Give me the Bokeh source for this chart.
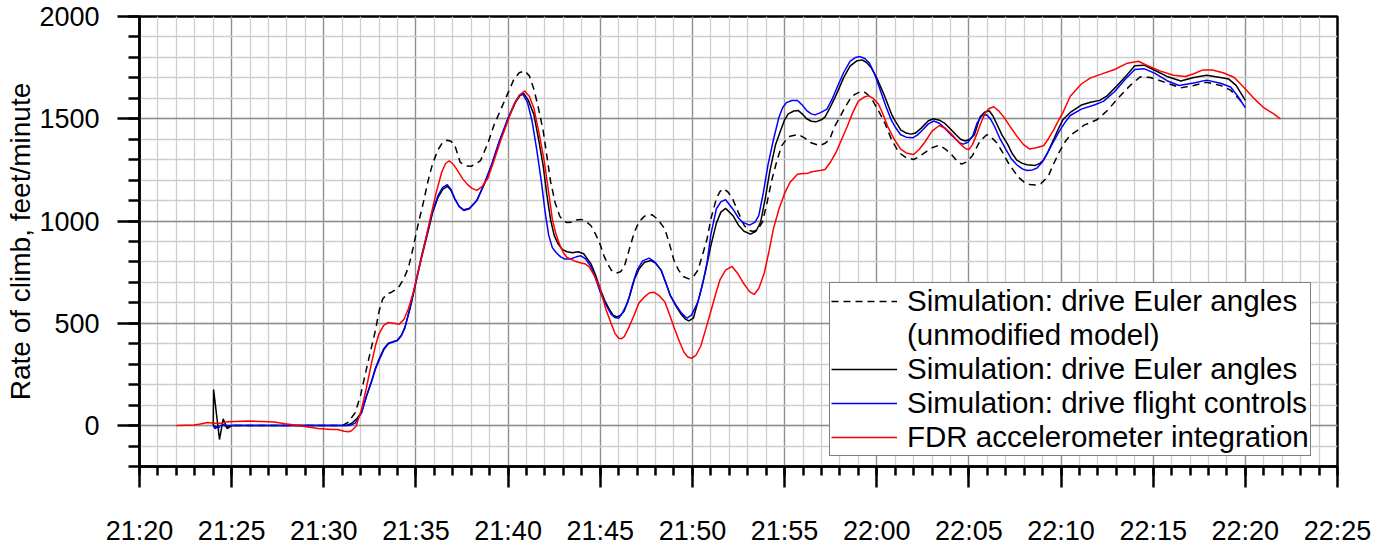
from bokeh.plotting import figure
from bokeh.models import Range1d, FixedTicker, Legend, LegendItem
from bokeh.embed import file_html
from bokeh.resources import INLINE

# Axis tick labels (clock time) and rate-of-climb ticks
TICK_LABELS = ["21:20", "21:25", "21:30", "21:35", "21:40", "21:45", "21:50",
               "21:55", "22:00", "22:05", "22:10", "22:15", "22:20", "22:25"]
Y_TICKS = [0, 500, 1000, 1500, 2000]
Y_MIN, Y_MAX = -200, 2000

# Times are minutes after 21:00; rates in feet/minute.
euler_old_t = [24.0, 24.3, 24.5, 24.7, 24.9, 31.0, 31.3, 31.7, 32.0, 32.2, 32.5, 32.8, 33.0, 33.2,
               33.45, 33.65, 33.9, 34.1, 34.35, 34.6, 34.85, 35.1, 35.4, 35.65, 35.9, 36.2, 36.45,
               36.7, 36.9, 37.1, 37.25, 37.4, 37.7, 38.0, 38.25, 38.5, 38.9, 39.25, 39.6, 40.0,
               40.3, 40.6, 40.9, 41.15, 41.4, 41.65, 41.9, 42.1, 42.3, 42.55, 42.8, 43.0, 43.2,
               43.5, 43.7, 43.95, 44.2, 44.5, 44.75, 45.0, 45.2, 45.4, 45.6, 45.85, 46.1, 46.3,
               46.6, 46.85, 47.1, 47.4, 47.8, 48.1, 48.5, 48.75, 49.0, 49.25, 49.5, 49.8, 50.05,
               50.3, 50.55, 50.8, 51.0, 51.3, 51.5, 51.7, 51.95, 52.2, 52.5, 52.8, 53.05, 53.3,
               53.55, 53.8, 54.05, 54.3, 54.6, 54.85, 55.1, 55.3, 55.75, 56.1, 56.4, 56.9, 57.2,
               57.45, 57.7, 58.0, 58.3, 58.65, 59.0, 59.3, 59.55, 59.8, 60.15, 60.45, 60.8, 61.1,
               61.3, 61.6, 62.0, 62.3, 62.65, 63.0, 63.4, 63.75, 64.1, 64.35, 64.6, 64.9, 65.2,
               65.6, 65.97, 66.2, 66.5, 66.8, 67.1, 67.4, 67.7, 68.0, 68.3, 68.6, 68.9, 69.1,
               69.35, 69.6, 69.9, 70.2, 70.5, 71.0, 71.25, 71.95, 72.5, 73.1, 73.75, 74.3, 74.85,
               75.6, 76.5, 77.2, 77.9, 78.65, 79.2, 79.7, 79.9]
euler_old_roc = [0, -10, 8, -5, 0, 0, 15, 62, 150, 232, 350, 465, 560, 620,
                 645, 651, 665, 682, 720, 775, 870, 977, 1090, 1194, 1280, 1349, 1385,
                 1395, 1390, 1372, 1330, 1287, 1270, 1268, 1280, 1295, 1380, 1473, 1545, 1628,
                 1690, 1725, 1734, 1710, 1644, 1550, 1443, 1320, 1195, 1090, 1024, 1000, 993,
                 995, 1005, 1008, 1000, 977, 935, 884, 830, 791, 760, 745, 752, 776,
                 870, 946, 995, 1024, 1031, 1010, 962, 890, 807, 760, 729, 717, 728,
                 760, 835, 915, 1010, 1110, 1145, 1159, 1140, 1104, 1040, 980, 955, 949,
                 960, 995, 1090, 1198, 1300, 1369, 1400, 1415, 1423, 1405, 1384, 1369, 1380,
                 1400, 1460, 1508, 1560, 1610, 1628, 1633, 1615, 1586, 1530, 1477, 1399, 1350,
                 1329, 1310, 1301, 1315, 1337, 1358, 1371, 1350, 1321, 1295, 1278, 1290, 1321,
                 1391, 1422, 1410, 1384, 1340, 1290, 1250, 1213, 1190, 1179, 1176, 1182, 1200,
                 1228, 1280, 1337, 1385, 1420, 1450, 1469, 1495, 1539, 1601, 1663, 1705, 1702,
                 1679, 1651, 1663, 1679, 1663, 1640, 1593, 1565]

euler_t = [24.0, 24.02, 24.34, 24.54, 24.76, 25.0, 31.2, 31.5, 31.8, 32.05, 32.3, 32.6, 32.8,
           33.0, 33.25, 33.5, 33.75, 34.0, 34.2, 34.4, 34.7, 35.0, 35.3, 35.65, 35.9, 36.2,
           36.45, 36.7, 36.9, 37.1, 37.35, 37.6, 37.9, 38.3, 38.7, 39.1, 39.5, 40.0, 40.4,
           40.65, 40.85, 41.1, 41.4, 41.65, 41.9, 42.1, 42.3, 42.5, 42.7, 42.95, 43.2, 43.5,
           43.8, 44.1, 44.5, 44.75, 45.0, 45.25, 45.5, 45.7, 45.9, 46.1, 46.3, 46.6, 46.85,
           47.1, 47.4, 47.75, 48.0, 48.3, 48.55, 48.8, 49.1, 49.4, 49.6, 49.8, 50.05, 50.4,
           50.7, 51.0, 51.3, 51.55, 51.8, 52.2, 52.5, 52.8, 53.15, 53.45, 53.7, 53.95, 54.2,
           54.5, 54.8, 55.0, 55.2, 55.5, 55.75, 56.0, 56.2, 56.45, 56.7, 57.0, 57.2, 57.5,
           57.8, 58.2, 58.55, 58.9, 59.2, 59.45, 59.7, 60.0, 60.4, 60.8, 61.0, 61.3, 61.6,
           61.85, 62.1, 62.4, 62.8, 63.1, 63.4, 63.7, 64.0, 64.3, 64.55, 64.8, 65.05, 65.3,
           65.6, 65.85, 66.1, 66.3, 66.5, 66.8, 67.1, 67.35, 67.6, 67.9, 68.15, 68.6, 68.85,
           69.05, 69.3, 69.6, 69.85, 70.1, 70.5, 71.1, 71.6, 72.1, 72.5, 73.05, 73.6, 74.0,
           74.5, 75.0, 75.75, 76.5, 77.2, 77.9, 78.65, 79.1, 79.5, 80.0]
euler_roc = [0, 176, -68, 33, -15, 0, 0, 10, 35, 65, 140, 220, 280,
             325, 375, 403, 410, 418, 440, 480, 580, 700, 820, 946, 1040, 1116,
             1155, 1170, 1150, 1110, 1070, 1052, 1060, 1100, 1180, 1271, 1380, 1500, 1580,
             1615, 1624, 1590, 1520, 1400, 1272, 1130, 1008, 930, 890, 860, 850, 845,
             850, 840, 790, 735, 667, 610, 567, 540, 531, 540, 560, 635, 714,
             765, 799, 807, 795, 760, 700, 636, 585, 543, 522, 512, 525, 640,
             750, 880, 990, 1045, 1062, 1026, 980, 950, 936, 950, 995, 1110, 1244,
             1370, 1446, 1495, 1524, 1538, 1540, 1520, 1500, 1488, 1485, 1495, 1509, 1560,
             1617, 1700, 1757, 1782, 1788, 1775, 1750, 1700, 1617, 1523, 1490, 1446, 1430,
             1425, 1430, 1453, 1490, 1500, 1493, 1477, 1450, 1422, 1400, 1391, 1400, 1422,
             1508, 1532, 1539, 1515, 1477, 1420, 1376, 1330, 1298, 1282, 1275, 1272, 1282,
             1298, 1340, 1399, 1450, 1495, 1531, 1567, 1581, 1590, 1612, 1663, 1717, 1759,
             1762, 1741, 1707, 1685, 1702, 1713, 1702, 1694, 1663, 1590]

controls_t = [24.0, 24.1, 24.25, 24.4, 31.4, 31.7, 32.05, 32.3, 32.6, 32.8, 33.0, 33.25, 33.5,
              33.75, 34.0, 34.2, 34.4, 34.7, 35.0, 35.3, 35.65, 35.9, 36.2, 36.45, 36.7, 36.9,
              37.1, 37.35, 37.6, 37.9, 38.3, 38.7, 39.1, 39.5, 40.0, 40.4, 40.6, 40.8, 41.05,
              41.3, 41.55, 41.8, 42.0, 42.2, 42.4, 42.6, 42.85, 43.05, 43.4, 43.7, 43.95, 44.2,
              44.5, 44.75, 45.0, 45.3, 45.6, 45.8, 46.0, 46.2, 46.5, 46.75, 47.0, 47.3, 47.65,
              47.95, 48.3, 48.55, 48.8, 49.1, 49.4, 49.7, 49.95, 50.3, 50.55, 50.8, 51.0, 51.3,
              51.55, 51.8, 52.2, 52.5, 52.7, 53.1, 53.4, 53.6, 53.85, 54.1, 54.4, 54.7, 54.9,
              55.1, 55.4, 55.7, 55.95, 56.2, 56.45, 56.65, 56.95, 57.3, 57.6, 57.9, 58.2, 58.55,
              58.85, 59.1, 59.35, 59.6, 59.9, 60.15, 60.5, 60.8, 61.0, 61.3, 61.6, 61.95, 62.2,
              62.5, 62.8, 63.1, 63.4, 63.7, 64.0, 64.3, 64.5, 64.7, 64.95, 65.2, 65.45, 65.7,
              65.97, 66.2, 66.4, 66.7, 67.0, 67.3, 67.6, 67.9, 68.15, 68.45, 68.7, 68.95, 69.2,
              69.6, 69.95, 70.2, 70.5, 71.1, 71.8, 72.3, 72.9, 73.5, 74.0, 74.5, 75.1, 75.75,
              76.4, 77.2, 77.9, 78.65, 79.2, 79.6, 80.0]
controls_roc = [0, -15, -5, 0, 0, 12, 62, 140, 217, 275, 320, 370, 400,
                408, 416, 438, 478, 585, 705, 830, 955, 1050, 1125, 1165, 1178, 1155,
                1110, 1070, 1055, 1063, 1100, 1180, 1275, 1385, 1505, 1585, 1612, 1620, 1580,
                1489, 1350, 1195, 1050, 931, 870, 846, 825, 815, 815, 825, 830, 815,
                776, 718, 652, 592, 543, 528, 525, 550, 605, 690, 760, 805, 819,
                800, 760, 700, 636, 590, 551, 525, 540, 605, 690, 800, 935, 1060,
                1095, 1104, 1058, 1015, 995, 980, 995, 1026, 1140, 1275, 1400, 1509, 1555,
                1579, 1589, 1589, 1568, 1540, 1524, 1519, 1530, 1547, 1600, 1664, 1725, 1781,
                1800, 1804, 1795, 1773, 1715, 1650, 1560, 1492, 1460, 1422, 1410, 1407, 1420,
                1446, 1475, 1489, 1478, 1453, 1425, 1399, 1382, 1376, 1385, 1415, 1480, 1515,
                1520, 1495, 1461, 1400, 1352, 1305, 1275, 1255, 1247, 1250, 1259, 1285, 1321,
                1390, 1446, 1480, 1516, 1547, 1567, 1585, 1632, 1694, 1741, 1745, 1722, 1686,
                1663, 1675, 1689, 1674, 1655, 1609, 1554]

fdr_t = [22.0, 22.95, 23.3, 23.7, 24.05, 24.4, 24.8, 25.15, 25.9, 26.6, 27.3, 27.9, 28.4,
         28.95, 29.7, 30.4, 30.76, 31.1, 31.35, 31.5, 31.75, 32.05, 32.3, 32.6, 32.8, 33.0,
         33.25, 33.5, 33.8, 34.1, 34.35, 34.6, 34.85, 35.1, 35.45, 35.8, 36.1, 36.4, 36.6,
         36.8, 37.05, 37.3, 37.55, 37.8, 38.05, 38.3, 38.6, 38.9, 39.25, 39.6, 39.95, 40.3,
         40.6, 40.9, 41.15, 41.4, 41.7, 41.97, 42.2, 42.4, 42.6, 42.8, 43.0, 43.2, 43.6,
         43.95, 44.2, 44.4, 44.7, 45.0, 45.3, 45.6, 45.8, 46.0, 46.15, 46.3, 46.55, 46.85,
         47.1, 47.4, 47.65, 47.9, 48.2, 48.5, 48.75, 49.0, 49.3, 49.55, 49.75, 49.95, 50.2,
         50.45, 50.75, 51.0, 51.25, 51.5, 51.8, 52.15, 52.45, 52.8, 53.1, 53.35, 53.6, 53.9,
         54.15, 54.4, 54.7, 55.0, 55.3, 55.7, 56.0, 56.2, 56.45, 56.65, 57.0, 57.2, 57.5,
         57.8, 58.1, 58.4, 58.7, 59.0, 59.3, 59.55, 59.8, 60.1, 60.35, 60.6, 60.95, 61.3,
         61.6, 62.0, 62.3, 62.6, 63.0, 63.4, 63.7, 64.0, 64.3, 64.55, 64.8, 65.0, 65.2,
         65.45, 65.7, 65.9, 66.1, 66.35, 66.6, 66.9, 67.25, 67.6, 67.95, 68.3, 68.65, 69.05,
         69.3, 69.6, 69.85, 70.1, 70.5, 71.1, 71.6, 72.15, 72.9, 73.6, 74.2, 74.7, 75.4,
         76.1, 76.75, 77.2, 77.7, 78.2, 78.8, 79.4, 79.9, 80.45, 81.0, 81.5, 81.9]
fdr_roc = [0, 3, 8, 15, 12, 12, 19, 20, 22, 20, 17, 9, 3,
           -5, -14, -19, -19, -28, -30, -25, -3, 80, 180, 310, 390, 450,
           490, 504, 500, 496, 520, 574, 650, 744, 880, 1023, 1140, 1240, 1280,
           1295, 1275, 1240, 1205, 1178, 1160, 1150, 1170, 1209, 1300, 1395, 1480, 1566,
           1615, 1636, 1610, 1551, 1420, 1288, 1140, 1008, 935, 884, 845, 822, 805,
           795, 790, 776, 730, 667, 570, 497, 450, 427, 425, 435, 480, 543,
           600, 629, 648, 652, 635, 605, 545, 481, 410, 357, 335, 329, 345,
           388, 480, 559, 640, 714, 760, 778, 745, 692, 655, 641, 670, 746,
           850, 964, 1060, 1135, 1190, 1229, 1232, 1232, 1240, 1244, 1248, 1252, 1290,
           1337, 1400, 1462, 1530, 1586, 1605, 1613, 1600, 1571, 1520, 1462, 1400, 1352,
           1333, 1325, 1350, 1384, 1440, 1467, 1455, 1430, 1400, 1376, 1355, 1349, 1375,
           1430, 1490, 1531, 1550, 1559, 1540, 1508, 1460, 1415, 1375, 1352, 1358, 1368,
           1400, 1446, 1490, 1530, 1610, 1670, 1700, 1717, 1741, 1772, 1781, 1759, 1733,
           1713, 1707, 1720, 1739, 1738, 1725, 1702, 1655, 1601, 1554, 1526, 1500]


def clock_to_minutes(label):
    hh, mm = label.split(":")
    return (int(hh) - 21) * 60 + int(mm)


x_major = [clock_to_minutes(s) for s in TICK_LABELS]
x_minor = list(range(x_major[0], x_major[-1] + 1))
y_minor = list(range(Y_MIN, Y_MAX + 1, 100))

FONT = "Liberation Sans"

p = figure(width=1375, height=549, output_backend="svg", toolbar_location=None,
           x_range=Range1d(x_major[0], x_major[-1]), y_range=Range1d(Y_MIN, Y_MAX),
           min_border_left=139, min_border_right=38, min_border_top=16,
           min_border_bottom=83)
p.background_fill_color = "white"
p.border_fill_color = "white"
p.outline_line_color = "black"
p.outline_line_width = 2.5

# ticks and grid
xt = FixedTicker(ticks=x_major, minor_ticks=x_minor)
yt = FixedTicker(ticks=Y_TICKS, minor_ticks=y_minor)
p.xaxis.ticker = xt
p.yaxis.ticker = yt
p.xgrid.ticker = xt
p.ygrid.ticker = yt
p.xaxis.major_label_overrides = {t: s for t, s in zip(x_major, TICK_LABELS)}

for g in (p.xgrid, p.ygrid):
    g.grid_line_color = "#8f8f8f"
    g.grid_line_width = 1.3
    g.minor_grid_line_color = "#cdcdcd"
    g.minor_grid_line_width = 1.3

for ax in (p.xaxis, p.yaxis):
    ax.axis_line_color = "black"
    ax.axis_line_width = 2.5
    ax.major_tick_line_color = "black"
    ax.major_tick_line_width = 2.5
    ax.minor_tick_line_color = "black"
    ax.minor_tick_line_width = 2.5
    ax.major_tick_in = 0
    ax.minor_tick_in = 0
    ax.major_label_text_font = FONT
    ax.major_label_text_font_size = "27px"
    ax.major_label_text_color = "black"

p.xaxis.major_tick_out = 21
p.xaxis.minor_tick_out = 9
p.xaxis.major_label_standoff = 28
p.yaxis.major_tick_out = 22
p.yaxis.minor_tick_out = 11
p.yaxis.major_label_standoff = 18

p.yaxis.axis_label = "Rate of climb, feet/minute"
p.yaxis.axis_label_text_font = FONT
p.yaxis.axis_label_text_font_size = "28px"
p.yaxis.axis_label_text_font_style = "normal"
p.yaxis.axis_label_text_color = "black"
p.yaxis.axis_label_standoff = 0

# series
r_old = p.line(euler_old_t, euler_old_roc, line_color="black", line_width=1.5, line_dash="7 5")
r_blank = p.line([], [], line_alpha=0)
r_euler = p.line(euler_t, euler_roc, line_color="black", line_width=1.5)
r_ctrl = p.line(controls_t, controls_roc, line_color="#0000ff", line_width=1.5)
r_fdr = p.line(fdr_t, fdr_roc, line_color="#ff0000", line_width=1.5)

legend = Legend(items=[
    LegendItem(label="Simulation: drive Euler angles", renderers=[r_old]),
    LegendItem(label="(unmodified model)", renderers=[r_blank]),
    LegendItem(label="Simulation: drive Euler angles", renderers=[r_euler]),
    LegendItem(label="Simulation: drive flight controls", renderers=[r_ctrl]),
    LegendItem(label="FDR accelerometer integration", renderers=[r_fdr]),
], location=(690, 10))
legend.label_text_font = FONT
legend.label_text_font_size = "29.5px"
legend.label_text_color = "black"
legend.label_height = 34
legend.glyph_height = 34
legend.glyph_width = 66
legend.label_standoff = 10
legend.spacing = 0
legend.padding = 1
legend.margin = 0
legend.border_line_color = "black"
legend.border_line_width = 1.5
legend.background_fill_color = "white"
legend.background_fill_alpha = 1.0
p.add_layout(legend)

open("out.html", "w").write(file_html(p, INLINE))
